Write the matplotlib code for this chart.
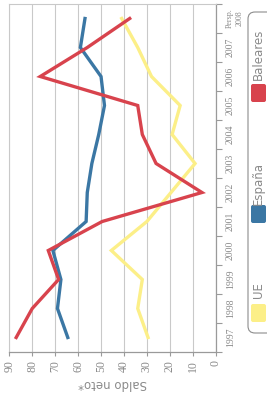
import numpy as np
import matplotlib
matplotlib.use("Agg")
import matplotlib.pyplot as plt
from matplotlib.patches import FancyBboxPatch
from matplotlib.transforms import IdentityTransform

# data (chart is drawn rotated: years run bottom -> top, values right -> left)
years = ["1997", "1998", "1999", "2000", "2001", "2002", "2003",
         "2004", "2005", "2006", "2007", "Persp.\n2008"]
baleares = [87, 80, 68.5, 73, 49.5, 6, 26, 32, 34, 76.5, 56, 37.5]
espana = [64.5, 69, 67.5, 71, 56.5, 56, 54, 51, 48.5, 50, 59, 57]
ue = [29.5, 34, 32, 45.5, 30, 19.5, 9, 19, 15.5, 28, 34, 41]
value_ticks = [90, 80, 70, 60, 50, 40, 30, 20, 10, 0]
series_names = ["UE", "España", "Baleares"]

RED = "#d8434d"
BLUE = "#3b77a4"
YELLOW = "#fcef88"
GRID = "#c9c9c9"
AXIS = "#9a9a9a"
TXT = "#8a8a8a"

fig = plt.figure(figsize=(2.67, 3.98), dpi=100)
ax = fig.add_axes([9.3 / 267, 46 / 398, 206.4 / 267, 348 / 398])

pos = np.arange(len(years)) + 0.5
ax.plot(ue, pos, color=YELLOW, lw=2.4, solid_joinstyle="miter")
ax.plot(espana, pos, color=BLUE, lw=2.4, solid_joinstyle="miter")
ax.plot(baleares, pos, color=RED, lw=2.4, solid_joinstyle="miter")

ax.set_xlim(90, 0)
ax.set_ylim(0, len(years))

# value axis (bottom)
ax.set_xticks(value_ticks)
ax.set_xticklabels([str(v) for v in value_ticks], rotation=90,
                   fontfamily="Liberation Serif", fontsize=8.5, color=TXT)
ax.tick_params(axis="x", direction="out", length=3, width=0.8,
               color=AXIS, pad=3)
ax.xaxis.grid(True, color=GRID, lw=0.8)
ax.set_axisbelow(True)

# year axis (right)
ax.yaxis.tick_right()
ax.set_yticks(np.arange(len(years) + 1))
ax.set_yticklabels([])
ax.set_yticks(pos, minor=True)
ax.set_yticklabels(years, minor=True, rotation=90, va="center",
                   fontfamily="Liberation Serif", fontsize=7, color=TXT,
                   multialignment="center")
ax.tick_params(axis="y", which="major", direction="out", length=4,
               width=0.8, color=AXIS)
ax.tick_params(axis="y", which="minor", length=0, pad=7.5)
ax.get_yticklabels(minor=True)[-1].set_fontsize(5.8)

for side in ["left", "top"]:
    ax.spines[side].set_color(GRID)
    ax.spines[side].set_linewidth(0.8)
for side in ["right", "bottom"]:
    ax.spines[side].set_color(AXIS)
    ax.spines[side].set_linewidth(0.9)

ax.set_xlabel("Saldo neto*", rotation=180, color=TXT, fontsize=8.5,
              labelpad=3)

# legend drawn by hand, rotated with the chart
box = FancyBboxPatch((248, 65), 40, 321,
                     boxstyle="round,pad=0,rounding_size=7",
                     transform=IdentityTransform(), facecolor="white",
                     edgecolor="#8c8c8c", lw=0.8)
fig.add_artist(box)
colors = [YELLOW, BLUE, RED]
patch_y = [76, 175, 296]
text_y = [108, 215, 344]
for name, c, py, ty in zip(series_names, colors, patch_y, text_y):
    sw = FancyBboxPatch((251, py), 15, 18,
                        boxstyle="round,pad=0,rounding_size=2",
                        transform=IdentityTransform(), facecolor=c,
                        edgecolor="none")
    fig.add_artist(sw)
    fig.text(258.5 / 267, ty / 398, name, rotation=90, ha="center",
             va="center", color=TXT, fontsize=8.5)

fig.savefig("out.png", dpi=100)
